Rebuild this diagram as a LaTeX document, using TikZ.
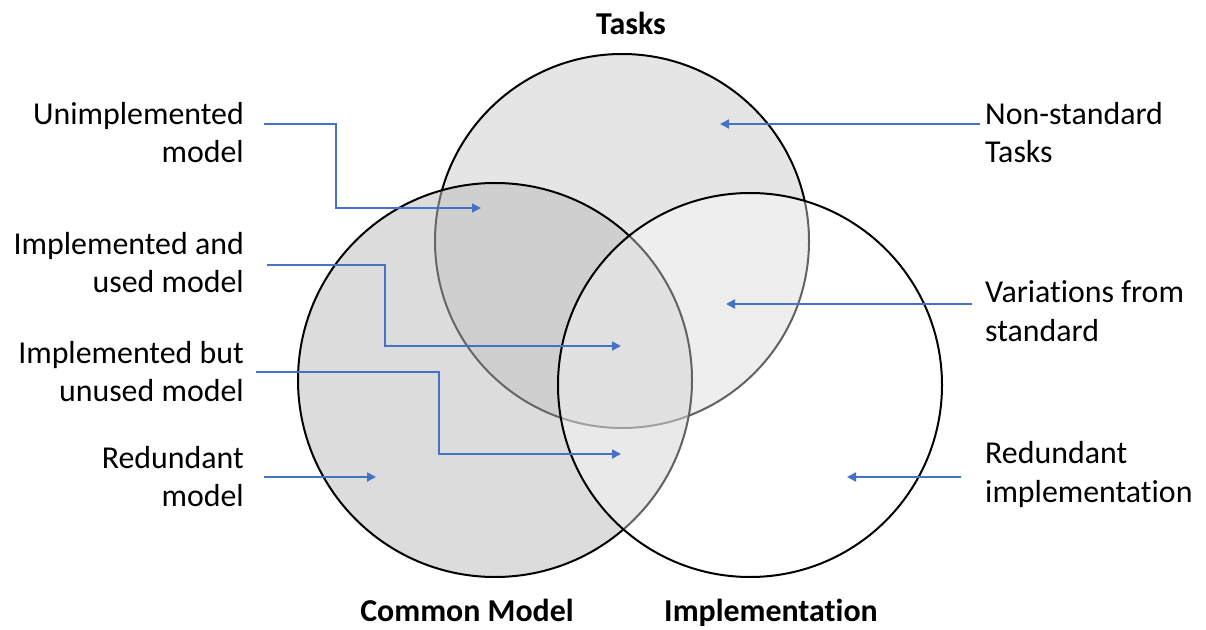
\documentclass[tikz,border=0pt]{standalone}
\usepackage{fontspec}
\setmainfont{Carlito}[Ligatures={NoCommon}]
\usetikzlibrary{arrows.meta,positioning}
\definecolor{linkblue}{RGB}{68,114,196}
\definecolor{tasksfill}{RGB}{229,229,229}
\definecolor{modelfill}{RGB}{190,190,190}

\begin{document}
\begin{tikzpicture}[x=1bp,y=-1bp,>={Triangle[length=9bp,width=9bp]},
    every node/.style={font=\fontsize{32}{39}\selectfont,inner sep=0pt},
    set/.style={circle,draw=black,line width=2bp},
    title/.style={font=\fontsize{32}{39}\selectfont\bfseries,anchor=base},
    lbl/.style={align=right,anchor=east},
    rlbl/.style={align=left,anchor=west},
    link/.style={->,draw=linkblue,line width=1.8bp}]
    \useasboundingbox (0,0) rectangle (1206,630);

    % the three sets
    \node[set,minimum size=374bp,fill=tasksfill] (tasks) at (622,241) {};
    \node[set,minimum size=394bp,fill=modelfill,fill opacity=0.54] (model) at (495,380) {};
    \node[set,minimum size=384bp,fill=white,fill opacity=0.385] (impl) at (750,385) {};

    \node[title] (taskstitle) at (631,35) {Tasks};
    \node[title] (modeltitle) at (467,621) {Common Model};
    \node[title] (impltitle) at (771,621) {Implementation};

    % labels on the left
    \node[lbl] (unimpl) at (244,132.5) {Unimplemented\\model};
    \node[lbl] (implused) at (244,262.5) {Implemented and\\used model};
    \node[lbl] (implunused) at (244,371.5) {Implemented but\\unused model};
    \node[lbl] (redmodel) at (244,476.5) {Redundant\\model};

    % labels on the right
    \node[rlbl] (nonstd) at (985,132.5) {Non-standard\\Tasks};
    \node[rlbl] (variations) at (985,311.5) {Variations from\\standard};
    \node[rlbl] (redimpl) at (985,474.8) {Redundant\\implementation};

    \coordinate (unimplT) at (481,208);
    \coordinate (implusedT) at (621,346);
    \coordinate (implunusedT) at (621,454);
    \coordinate (redmodelT) at (376,477);
    \coordinate (nonstdT) at (720,124);
    \coordinate (variationsT) at (726,304);
    \coordinate (redimplT) at (847,477);

    \draw[link] ([shift={(20,-8.5)}]unimpl.east) -- ++(72,0) |- (unimplT);
    \draw[link] ([shift={(23,2.5)}]implused.east) -- ++(118,0) |- (implusedT);
    \draw[link] ([shift={(12,0.5)}]implunused.east) -- ++(183,0) |- (implunusedT);
    \draw[link] ([shift={(20,0.5)}]redmodel.east) -- (redmodelT);
    \draw[link] ([shift={(-5,-8.5)}]nonstd.west) -- (nonstdT);
    \draw[link] ([shift={(-13,-7.5)}]variations.west) -- (variationsT);
    \draw[link] ([shift={(-24,2.2)}]redimpl.west) -- (redimplT);

\end{tikzpicture}
\end{document}
